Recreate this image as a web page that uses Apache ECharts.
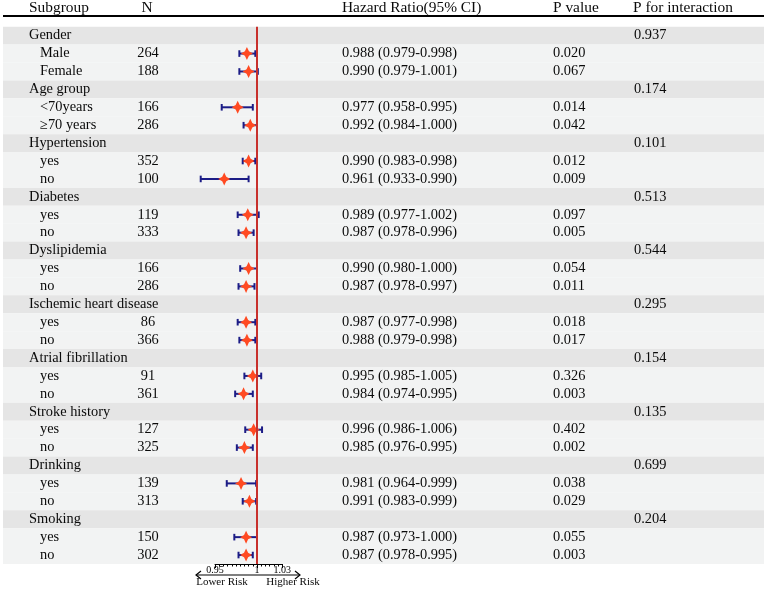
<!DOCTYPE html>
<html>
<head>
<meta charset="utf-8">
<script src="https://cdn.jsdelivr.net/npm/echarts@6/dist/echarts.min.js"></script>
<style>html,body{margin:0;padding:0;background:#fff;}#c{width:767px;height:591px;}</style>
</head>
<body>
<div id="c"></div>
<script>
const groups = ['Gender','Age group','Hypertension','Diabetes','Dyslipidemia','Ischemic heart disease','Atrial fibrillation','Stroke history','Drinking','Smoking'];
const subLabels = [['Male','Female'],['<70years','\u226570 years'],['yes','no'],['yes','no'],['yes','no'],['yes','no'],['yes','no'],['yes','no'],['yes','no'],['yes','no']];
const nValues = [[264,188],[166,286],[352,100],[119,333],[166,286],[86,366],[91,361],[127,325],[139,313],[150,302]];
const hrValues = [[0.988,0.990],[0.977,0.992],[0.990,0.961],[0.989,0.987],[0.990,0.987],[0.987,0.988],[0.995,0.984],[0.996,0.985],[0.981,0.991],[0.987,0.987]];
const lowerCI = [[0.979,0.979],[0.958,0.984],[0.983,0.933],[0.977,0.978],[0.980,0.978],[0.977,0.979],[0.985,0.974],[0.986,0.976],[0.964,0.983],[0.973,0.978]];
const upperCI = [[0.998,1.001],[0.995,1.000],[0.998,0.990],[1.002,0.996],[1.000,0.997],[0.998,0.998],[1.005,0.995],[1.006,0.995],[0.999,0.999],[1.000,0.995]];
const pValues = [['0.020','0.067'],['0.014','0.042'],['0.012','0.009'],['0.097','0.005'],['0.054','0.011'],['0.018','0.017'],['0.326','0.003'],['0.402','0.002'],['0.038','0.029'],['0.055','0.003']];
const pInteraction = ['0.937','0.174','0.101','0.513','0.544','0.295','0.154','0.135','0.699','0.204'];
const headers = ['Subgroup','N','Hazard Ratio(95% CI)','P value','P for interaction'];
const axisLabels = [0.95, 1, 1.03];
const refValue = 1;

// build rows
const rows = [];
groups.forEach((g, i) => {
  rows.push({type: 'group', label: g, pint: pInteraction[i]});
  for (let j = 0; j < 2; j++) {
    rows.push({type: 'sub', label: subLabels[i][j], n: nValues[i][j], hr: hrValues[i][j], lo: lowerCI[i][j], hi: upperCI[i][j], p: pValues[i][j]});
  }
});
const cats = rows.map((r, i) => String(i));

const FONT = '"Liberation Serif", "Times New Roman", serif';
const TXT = '#0a0a0a';
const BODY = 14.4, HEAD = 15.4;
const colX = {group: 29, sub: 40, n: 148, hr: 342, p: 553, pint: 634};

const chart = echarts.init(document.getElementById('c'), null, {renderer: 'canvas'});

const gridTop = 26.7, gridBottom = 27;

function txt(text, x, y, align, size) {
  return {type: 'text', x: x, y: y, style: {text: text, font: (size || BODY) + 'px ' + FONT, fill: TXT, align: align || 'left', verticalAlign: 'middle'}};
}
function head(text, x, align) {
  return {type: 'text', x: x, y: 8, style: {text: text, font: HEAD + 'px ' + FONT, fill: TXT, align: align, verticalAlign: 'middle'}};
}

const option = {
  animation: false,
  grid: [
    {left: 0, right: 0, top: gridTop, bottom: gridBottom},
    {left: 215, right: 767 - 282.2, top: gridTop, bottom: gridBottom}
  ],
  xAxis: [
    {gridIndex: 0, type: 'value', min: 0, max: 1, show: false},
    {gridIndex: 1, type: 'value', min: 0.95, max: 1.03, position: 'bottom',
      axisLine: {show: true, lineStyle: {color: '#000', width: 1}},
      axisTick: {show: true, customValues: axisLabels, length: 4, lineStyle: {color: '#000'}},
      axisLabel: {show: true, customValues: axisLabels, margin: 1.5, fontSize: 10, fontFamily: FONT, color: '#000',
        hideOverlap: false, formatter: v => String(Math.round(v * 100) / 100)},
      splitLine: {show: false}},
    {gridIndex: 1, type: 'value', min: 0.95, max: 1.03, interval: 0.005, position: 'bottom',
      axisLine: {show: false},
      axisTick: {show: true, length: 2.5, lineStyle: {color: '#000'}},
      axisLabel: {show: false}, splitLine: {show: false}}
  ],
  yAxis: [
    {gridIndex: 0, type: 'category', data: cats, inverse: true, show: false},
    {gridIndex: 1, type: 'category', data: cats, inverse: true, show: false}
  ],
  graphic: [
    {type: 'line', shape: {x1: 3, y1: 16, x2: 764, y2: 16}, style: {stroke: '#000', lineWidth: 2}},
    head(headers[0], 29, 'left'),
    head(headers[1], 147, 'center'),
    head(headers[2], 342, 'left'),
    head(headers[3], 553, 'left'),
    head(headers[4], 633, 'left'),
    // risk arrow
    {type: 'polyline', shape: {points: [[196, 575], [300, 575]]}, style: {stroke: '#000', lineWidth: 1.2, fill: null}},
    {type: 'polyline', shape: {points: [[201, 571], [196, 575], [201, 579]]}, style: {stroke: '#000', lineWidth: 1.2, fill: null}},
    {type: 'polyline', shape: {points: [[295, 571], [300, 575], [295, 579]]}, style: {stroke: '#000', lineWidth: 1.2, fill: null}},
    {type: 'text', x: 222, y: 582, style: {text: 'Lower Risk', font: '11px ' + FONT, fill: TXT, align: 'center', verticalAlign: 'middle'}},
    {type: 'text', x: 293, y: 582, style: {text: 'Higher Risk', font: '11px ' + FONT, fill: TXT, align: 'center', verticalAlign: 'middle'}}
  ],
  series: [
    { // row bands
      type: 'custom', xAxisIndex: 0, yAxisIndex: 0, silent: true, z: 0,
      data: rows.map((r, i) => [0, i]),
      renderItem: (params, api) => {
        const idx = api.value(1);
        const y = api.coord([0, idx])[1];
        const h = api.size([0, 1])[1];
        const r = rows[idx];
        return {type: 'rect', shape: {x: 3, y: y - h / 2, width: 761, height: h},
          style: {fill: r.type === 'group' ? '#e5e5e5' : '#f2f3f3'}};
      }
    },
    { // table text
      type: 'custom', xAxisIndex: 0, yAxisIndex: 0, silent: true, z: 2,
      data: rows.map((r, i) => [0, i]),
      renderItem: (params, api) => {
        const idx = api.value(1);
        const y = api.coord([0, idx])[1];
        const r = rows[idx];
        const ch = [];
        if (r.type === 'group') {
          ch.push(txt(r.label, colX.group, y, 'left'));
          ch.push(txt(r.pint, colX.pint, y, 'left'));
        } else {
          ch.push(txt(r.label, colX.sub, y, 'left'));
          ch.push(txt(String(r.n), colX.n, y, 'center'));
          ch.push(txt(r.hr.toFixed(3) + ' (' + r.lo.toFixed(3) + '-' + r.hi.toFixed(3) + ')', colX.hr, y, 'left'));
          ch.push(txt(r.p, colX.p, y, 'left'));
        }
        return {type: 'group', children: ch};
      }
    },
    { // confidence intervals
      type: 'custom', xAxisIndex: 1, yAxisIndex: 1, silent: true, clip: false, z: 3,
      data: rows.map((r, i) => r.type === 'sub' ? [r.lo, r.hi, i] : null).filter(d => d),
      encode: {x: [0, 1], y: 2},
      renderItem: (params, api) => {
        const a = api.coord([api.value(0), api.value(2)]);
        const b = api.coord([api.value(1), api.value(2)]);
        const cap = 3.3;
        const st = {stroke: '#1c1c86', lineWidth: 2};
        return {type: 'group', children: [
          {type: 'line', shape: {x1: a[0], y1: a[1], x2: b[0], y2: b[1]}, style: st},
          {type: 'line', shape: {x1: a[0], y1: a[1] - cap, x2: a[0], y2: a[1] + cap}, style: st},
          {type: 'line', shape: {x1: b[0], y1: b[1] - cap, x2: b[0], y2: b[1] + cap}, style: st}
        ]};
      }
    },
    { // point estimates + reference line
      type: 'scatter', xAxisIndex: 1, yAxisIndex: 1, silent: true, z: 4,
      symbol: 'path://M0,-10 L3.4,-3.4 L10,0 L3.4,3.4 L0,10 L-3.4,3.4 L-10,0 L-3.4,-3.4 Z',
      symbolSize: [12, 13],
      itemStyle: {color: '#ff4a22', opacity: 1},
      data: rows.map((r, i) => r.type === 'sub' ? [r.hr, i] : null).filter(d => d),
      markLine: {
        silent: true, symbol: 'none', label: {show: false},
        lineStyle: {color: '#c8302c', width: 2, type: 'solid'},
        data: [{xAxis: refValue}]
      }
    }
  ]
};
chart.setOption(option);
</script>
</body>
</html>
